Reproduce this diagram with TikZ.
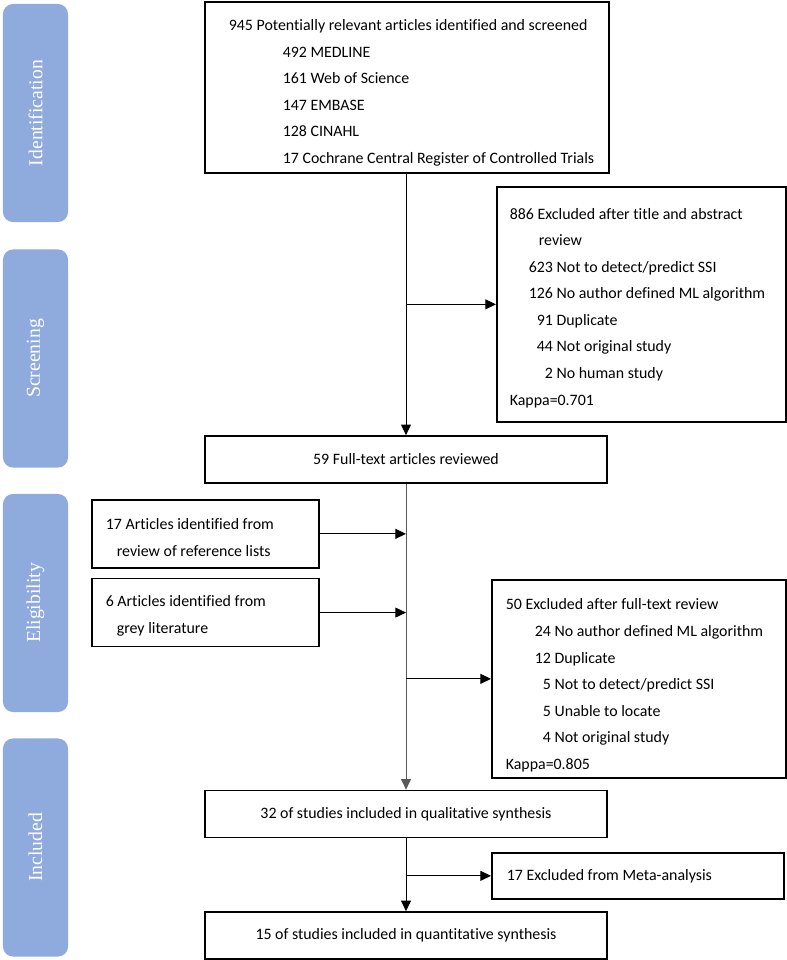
\documentclass[tikz,border=0pt]{standalone}
\usepackage{fontspec}
\setmainfont{Carlito}[Ligatures=NoCommon]
\newfontfamily\stagefont{Liberation Serif}
\usetikzlibrary{positioning,arrows.meta}
\definecolor{stagebar}{HTML}{8FAADC}

\begin{document}
\begin{tikzpicture}[
    x=0.025cm, y=-0.025cm,
    >={Triangle[length=7.5pt,width=7pt]},
    box/.style={
        draw,
        line width=1.2pt,
        inner ysep=0pt,
        font=\fontsize{11.3}{18.9}\selectfont
    },
    listbox/.style={
        box,
        anchor=north west,
        align=flush left
    },
    mainbox/.style={
        box,
        align=center,
        minimum width=10.05cm,
        minimum height=1.175cm
    },
    stage/.style={
        fill=stagebar,
        rounded corners=0.25cm,
        rotate=90,
        minimum width=5.45cm,
        minimum height=1.625cm,
        text=white,
        font=\stagefont\fontsize{14}{16}\selectfont
    },
    link/.style={->, line width=0.7pt}
]
    \useasboundingbox (0,0) rectangle (787,960);

    % Phase bars on the left
    \node[stage] (ident)  at (35.5,113)   {Identification};
    \node[stage] (screen) at (35.5,358.5) {Screening};
    \node[stage] (elig)   at (35.5,603)   {Eligibility};
    \node[stage] (incl)   at (35.5,847.5) {Included};

    % Records identified
    \node[listbox, inner xsep=0.3cm, text width=9.5cm, minimum height=4.275cm, text height=0.55cm] (found) at (204,1) {%
        \hspace*{0.3cm}945 Potentially relevant articles identified and screened\\
        \hspace*{1.65cm}492 MEDLINE\\
        \hspace*{1.65cm}161 Web of Science\\
        \hspace*{1.65cm}147 EMBASE\\
        \hspace*{1.65cm}128 CINAHL\\
        \hspace*{1.65cm}17 Cochrane Central Register of Controlled Trials};

    % Title / abstract exclusions
    \node[listbox, inner xsep=0.325cm, text width=6.575cm, minimum height=5.875cm, text height=0.45cm] (exclA) at (496,186) {%
        886 Excluded after title and abstract\\
        \hspace*{0.725cm}review\\
        \hspace*{0.475cm}623 Not to detect/predict SSI\\
        \hspace*{0.475cm}126 No author defined ML algorithm\\
        \hspace*{0.475cm}\phantom{0}91 Duplicate\\
        \hspace*{0.475cm}\phantom{0}44 Not original study\\
        \hspace*{0.475cm}\phantom{00}2 No human study\\
        Kappa=0.701};

    % Full text
    \node[mainbox] (fulltext) at (406,459.5) {59 Full-text articles reviewed};

    % Extra sources
    \node[listbox, inner xsep=0.35cm, text width=4.975cm, minimum height=1.7cm, text height=0.45cm] (refs) at (91,499) {%
        17 Articles identified from\\
        \hspace*{0.275cm}review of reference lists};
    \node[listbox, inner xsep=0.35cm, text width=4.975cm, minimum height=1.7cm, text height=0.45cm, below=0.225cm of refs.south west, anchor=north west] (grey) {%
        6 Articles identified from\\
        \hspace*{0.275cm}grey literature};

    % Full-text exclusions
    \node[listbox, inner xsep=0.35cm, text width=6.65cm, minimum height=4.95cm, text height=0.6cm] (exclB) at (491,579) {%
        50 Excluded after full-text review\\
        \hspace*{0.725cm}24 No author defined ML algorithm\\
        \hspace*{0.725cm}12 Duplicate\\
        \hspace*{0.725cm}\phantom{0}5 Not to detect/predict SSI\\
        \hspace*{0.725cm}\phantom{0}5 Unable to locate\\
        \hspace*{0.725cm}\phantom{0}4 Not original study\\
        Kappa=0.805};

    % Included studies
    \node[mainbox] (qual)  at (406,814)   {32 of studies included in qualitative synthesis};
    \node[listbox, inner xsep=0.375cm, text width=6.55cm, minimum height=1.15cm] (exclC) at (491,852) {%
        17 Excluded from Meta-analysis};
    \node[mainbox] (quant) at (406,935.5) {15 of studies included in quantitative synthesis};

    % Main flow
    \draw[link] (found.south -| fulltext.north) -- (fulltext.north);
    \draw[link] (exclA.west -| fulltext.north) -- (exclA.west);
    \draw[link, draw=black!65] (fulltext.south) -- (qual.north);
    \draw[link] (refs.east) -- (refs.east -| fulltext.south);
    \draw[link] (grey.east) -- (grey.east -| fulltext.south);
    \draw[link] (exclB.west -| fulltext.south) -- (exclB.west);
    \draw[link] (qual.south) -- (quant.north);
    \draw[link] (exclC.west -| qual.south) -- (exclC.west);
\end{tikzpicture}
\end{document}
